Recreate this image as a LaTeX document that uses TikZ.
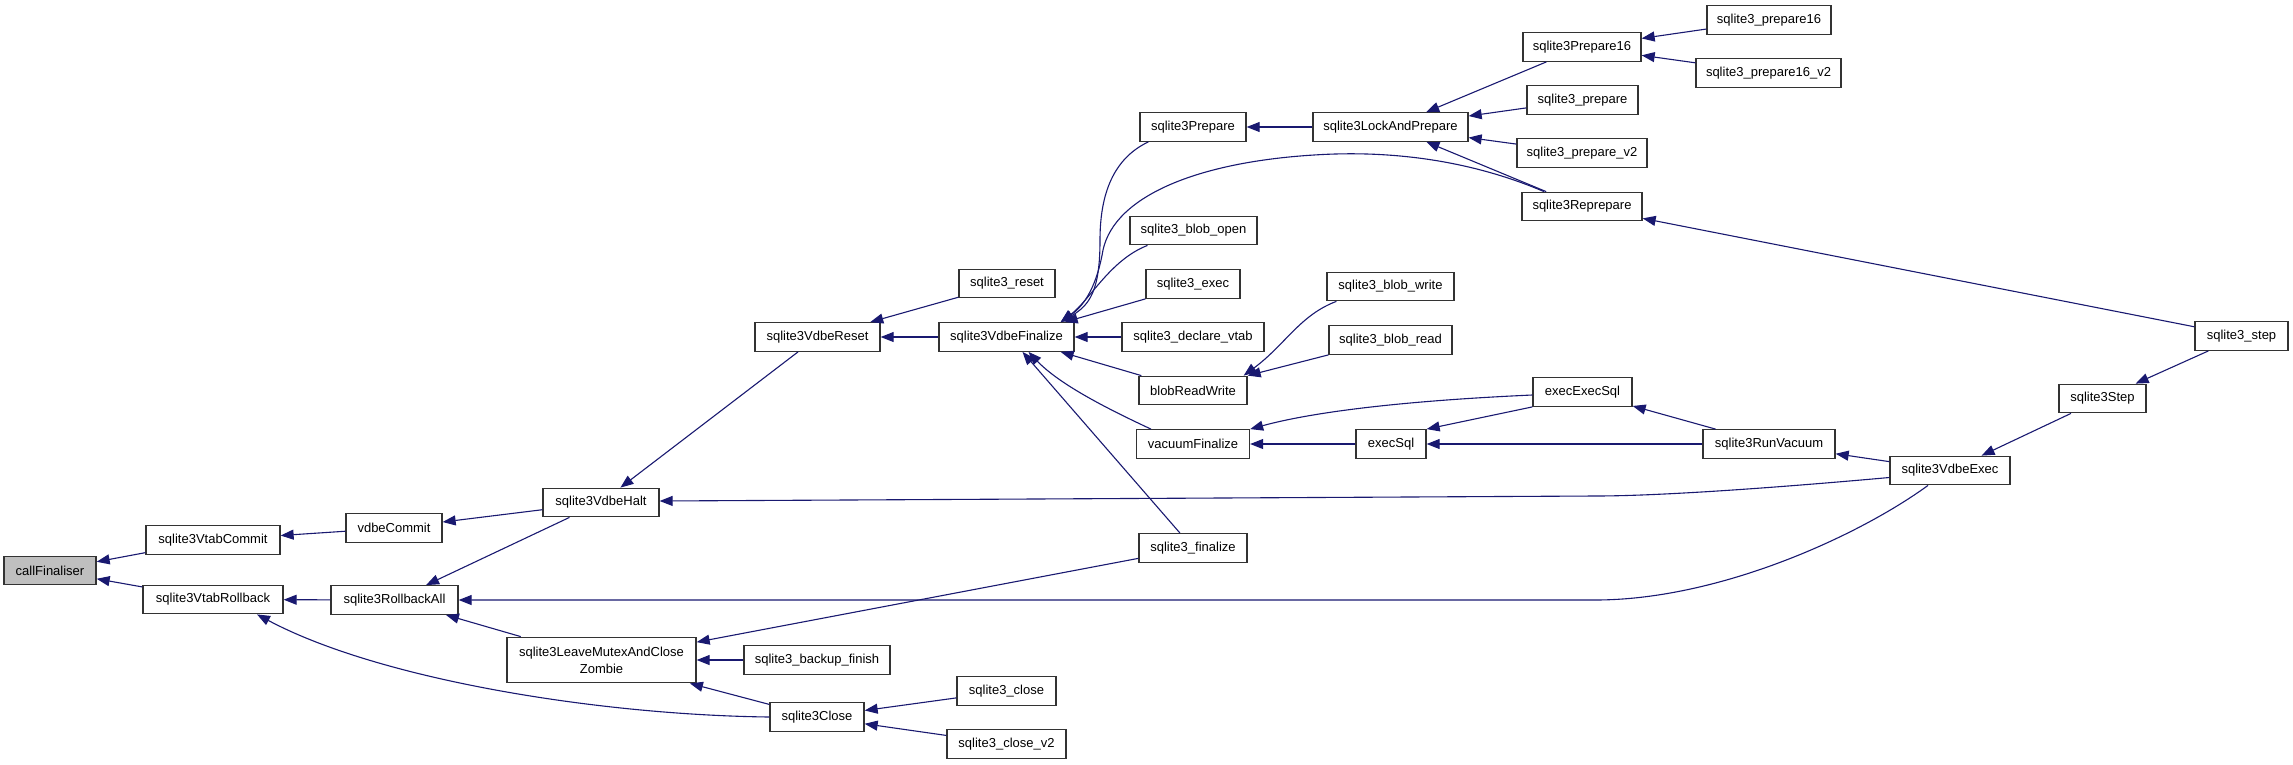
\documentclass[tikz,border=0pt]{standalone}
\usepackage{fontspec}
\setmainfont{Liberation Sans}
\usetikzlibrary{arrows.meta}
\definecolor{edgecol}{HTML}{191970}
\definecolor{rootfill}{HTML}{BFBFBF}
\begin{document}
\begin{tikzpicture}[x=1pt,y=-1pt,
  box/.style={draw=black!80, line width=1.3pt, fill=white, inner sep=0pt,
    minimum height=28.5pt, font=\fontsize{13}{16.7}\selectfont, align=center},
  e/.style={draw=edgecol, line width=1.1pt, -{Triangle[length=13pt,width=10pt]}}]
\useasboundingbox (0,0) rectangle (2293,764);
% nodes
\node[box, fill=rootfill, minimum width=92pt] (cf) at (50,570.5) {callFinaliser};
\node[box, minimum width=134pt] (vtc) at (213,540) {sqlite3VtabCommit};
\node[box, minimum width=140pt] (vtr) at (213,599.5) {sqlite3VtabRollback};
\node[box, minimum width=96pt] (vdc) at (394,528) {vdbeCommit};
\node[box, minimum width=127pt] (rba) at (394.5,600) {sqlite3RollbackAll};
\node[box, minimum width=116pt] (vdh) at (601,502.5) {sqlite3VdbeHalt};
\node[box, minimum width=189pt, minimum height=45.5pt] (lmz) at (601.5,660) {sqlite3LeaveMutexAndClose\\Zombie};
\node[box, minimum width=125pt] (vdr) at (817.5,337) {sqlite3VdbeReset};
\node[box, minimum width=96pt] (rst) at (1007,283.5) {sqlite3\_reset};
\node[box, minimum width=135pt] (vdf) at (1006.5,337) {sqlite3VdbeFinalize};
\node[box, minimum width=146pt] (bkf) at (817,660) {sqlite3\_backup\_finish};
\node[box, minimum width=94pt] (cls) at (817,717) {sqlite3Close};
\node[box, minimum width=99pt] (scl) at (1006.5,691) {sqlite3\_close};
\node[box, minimum width=119pt] (sc2) at (1006.5,744) {sqlite3\_close\_v2};
\node[box, minimum width=106pt] (prp) at (1193,127) {sqlite3Prepare};
\node[box, minimum width=127pt] (bop) at (1193.5,230.5) {sqlite3\_blob\_open};
\node[box, minimum width=94pt] (exc) at (1193,284) {sqlite3\_exec};
\node[box, minimum width=142pt] (dvt) at (1193,337) {sqlite3\_declare\_vtab};
\node[box, minimum width=108pt] (brw) at (1193,390.5) {blobReadWrite};
\node[box, minimum width=113pt] (vcf) at (1193,444) {vacuumFinalize};
\node[box, minimum width=108pt] (fin) at (1193,548) {sqlite3\_finalize};
\node[box, minimum width=155pt] (lap) at (1390.5,127) {sqlite3LockAndPrepare};
\node[box, minimum width=127pt] (bwr) at (1390.5,286.5) {sqlite3\_blob\_write};
\node[box, minimum width=123pt] (brd) at (1390.5,340) {sqlite3\_blob\_read};
\node[box, minimum width=70pt] (exs) at (1391,444) {execSql};
\node[box, minimum width=118pt] (p16) at (1582,47) {sqlite3Prepare16};
\node[box, minimum width=111pt] (spr) at (1582.5,100) {sqlite3\_prepare};
\node[box, minimum width=130pt] (pv2) at (1582,153) {sqlite3\_prepare\_v2};
\node[box, minimum width=120pt] (rep) at (1582,206.5) {sqlite3Reprepare};
\node[box, minimum width=99pt] (ees) at (1582.5,392) {execExecSql};
\node[box, minimum width=132pt] (rvc) at (1769,444) {sqlite3RunVacuum};
\node[box, minimum width=124pt] (s16) at (1769,20) {sqlite3\_prepare16};
\node[box, minimum width=145pt] (s6v) at (1768.5,73) {sqlite3\_prepare16\_v2};
\node[box, minimum width=120pt] (vde) at (1950,470.5) {sqlite3VdbeExec};
\node[box, minimum width=87pt] (stp) at (2102.5,398.5) {sqlite3Step};
\node[box, minimum width=93pt] (s3s) at (2241.5,336) {sqlite3\_step};
% edges
\draw[e] (vtc) -- (cf);
\draw[e] (vtr) -- (cf);
\draw[e] (vdc) -- (vtc);
\draw[e] (rba) -- (vtr);
\draw[e] (cls.west) .. controls (600,715) and (380,680) .. ([xshift=44pt]vtr.south);
\draw[e] (vdh) -- (vdc);
\draw[e] (vdh) -- (rba);
\draw[e] (lmz) -- (rba);
\draw[e] ([xshift=-22pt]vde.south) .. controls (1860,535) and (1720,600) .. (1595,600) -- (rba.east);
\draw[e] (vdr) -- (vdh);
\draw[e] ([yshift=-7pt]vde.west) .. controls (1750,490) and (1650,496) .. (1595,496) -- ([yshift=1.5pt]vdh.east);
\draw[e] (rst) -- (vdr);
\draw[e] (vdf) -- (vdr);
\draw[e] (fin) -- (lmz);
\draw[e] (bkf) -- (lmz);
\draw[e] (cls) -- (lmz);
\draw[e] (scl) -- (cls);
\draw[e] (sc2) -- (cls);
\draw[e] ([xshift=9pt]prp.south west) .. controls (1110,160) and (1100,200) .. (1100,240) .. controls (1100,290) and (1090,305) .. ([xshift=-14pt]vdf.north east);
\draw[e] ([xshift=-38pt]rep.north) .. controls (1470,160) and (1390,150) .. (1314,155) .. controls (1200,162) and (1115,195) .. (1103,250) .. controls (1097,285) and (1085,305) .. ([xshift=-14pt]vdf.north east);
\draw[e] (rep) -- (lap);
\draw[e] ([xshift=-46pt]bop.south) .. controls (1110,260) and (1090,300) .. ([xshift=-14pt]vdf.north east);
\draw[e] (exc.south west) -- ([xshift=-10pt]vdf.north east);
\draw[e] (dvt) -- (vdf);
\draw[e] ([xshift=3pt]brw.north west) -- ([xshift=-14pt]vdf.south east);
\draw[e] ([xshift=-42pt]vcf.north) .. controls (1110,410) and (1060,385) .. ([xshift=22pt]vdf.south);
\draw[e] ([xshift=-13pt]fin.north) -- ([xshift=16pt]vdf.south);
\draw[e] (lap) -- (prp);
\draw[e] (p16) -- (lap);
\draw[e] (spr) -- (lap);
\draw[e] (pv2) -- (lap);
\draw[e] (s16) -- (p16);
\draw[e] (s6v) -- (p16);
\draw[e] (s3s) -- (rep);
\draw[e] ([xshift=10pt]bwr.south west) .. controls (1300,315) and (1285,345) .. ([xshift=-4pt]brw.north east);
\draw[e] (brd.south west) -- (brw.north east);
\draw[e] ([yshift=-3pt]ees.west) .. controls (1420,400) and (1320,410) .. (vcf.north east);
\draw[e] (exs) -- (vcf);
\draw[e] (ees.south west) -- (exs.north east);
\draw[e] (rvc) -- (exs);
\draw[e] (rvc) -- (ees);
\draw[e] (vde) -- (rvc);
\draw[e] (stp) -- (vde);
\draw[e] (s3s) -- (stp);
\end{tikzpicture}
\end{document}
